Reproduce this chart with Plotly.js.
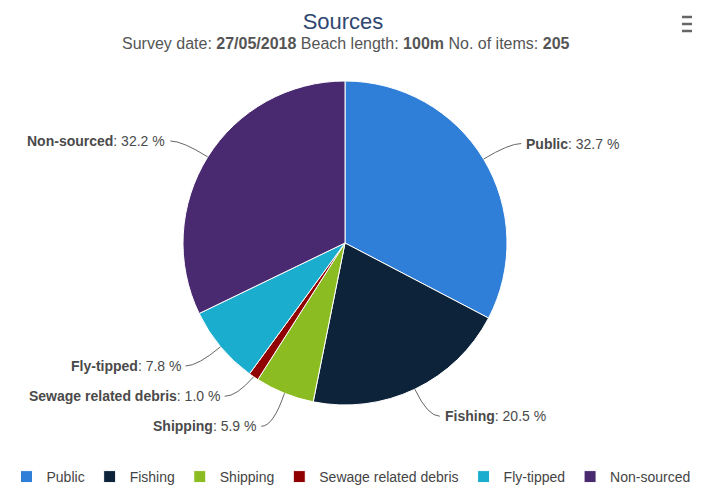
<!DOCTYPE html>
<html>
<head>
<meta charset="utf-8">
<script src="https://cdn.plot.ly/plotly-3.0.1.min.js"></script>
<style>html,body{margin:0;padding:0;background:#fff;}#chart{width:702px;height:494px;}</style>
</head>
<body>
<div id="chart"></div>
<script>
// Data
const categories = ['Public', 'Fishing', 'Shipping', 'Sewage related debris', 'Fly-tipped', 'Non-sourced'];
const percents = [32.7, 20.5, 5.9, 1.0, 7.8, 32.2];
const sliceColors = ['#2f7ed8', '#0d233a', '#8bbc21', '#910000', '#1aadce', '#492970'];

// Geometry
const W = 702, H = 494;
const cx = 345, cy = 243, r = 162, dist = 30;
const px = x => x / W;
const py = y => 1 - y / H;
const FONT = 'Liberation Sans, Arial, Helvetica, sans-serif';

const total = percents.reduce((a, b) => a + b, 0);
let cum = 0;
const items = percents.map((v, i) => {
  const mid = (cum + v / 2) / total * 2 * Math.PI;
  cum += v;
  const s = Math.sin(mid), c = Math.cos(mid);
  return {i, v, s, c,
    ex: cx + r * s, ey: cy - r * c,
    ax: cx + (r + dist) * s, ay: cy - (r + dist) * c,
    right: s >= 0};
});

// simple label de-overlap per side (keep minimum vertical gap)
const GAP = 30;
[true, false].forEach(side => {
  const list = items.filter(d => d.right === side).sort((a, b) => a.ay - b.ay);
  let changed = true, guard = 0;
  while (changed && guard++ < 50) {
    changed = false;
    for (let k = 1; k < list.length; k++) {
      const overlap = GAP - (list[k].ay - list[k - 1].ay);
      if (overlap > 0.01) {
        list[k - 1].ay -= overlap / 2;
        list[k].ay += overlap / 2;
        changed = true;
      }
    }
  }
});

const annotations = [];
const shapes = [];
items.forEach(d => {
  const sign = d.right ? 1 : -1;
  const tx = d.ax + sign * 12;
  shapes.push({
    type: 'path', xref: 'paper', yref: 'paper',
    path: `M ${px(tx)} ${py(d.ay)} Q ${px(d.ax)} ${py(d.ay)} ${px(d.ex)} ${py(d.ey)}`,
    line: {color: '#666666', width: 1}
  });
  const pct = (d.v / total * 100).toFixed(1);
  annotations.push({
    xref: 'paper', yref: 'paper', x: px(tx + sign * 3), y: py(d.ay),
    xanchor: d.right ? 'left' : 'right', yanchor: 'middle', showarrow: false,
    text: `<b>${categories[d.i]}</b>: ${pct} %`,
    font: {family: FONT, size: 14, color: '#4a4a4a'}
  });
});

// subtitle
annotations.push({
  xref: 'paper', yref: 'paper', x: px(346), y: py(44), xanchor: 'center', yanchor: 'middle', showarrow: false,
  text: 'Survey date: <b>27/05/2018</b> Beach length: <b>100m</b> No. of items: <b>205</b>',
  font: {family: FONT, size: 16, color: '#555555'}
});

// menu icon
[17, 24, 31].forEach(y => shapes.push({
  type: 'line', xref: 'paper', yref: 'paper', x0: px(682), x1: px(692), y0: py(y), y1: py(y),
  line: {color: '#666666', width: 2.5}
}));

const trace = {
  type: 'pie',
  labels: categories,
  values: percents,
  sort: false,
  direction: 'clockwise',
  rotation: 0,
  textinfo: 'none',
  marker: {colors: sliceColors, line: {color: '#ffffff', width: 1}},
  domain: {x: [px(cx - r), px(cx + r)], y: [py(cy + r), py(cy - r)]},
  hoverinfo: 'label+percent'
};

const layout = {
  width: W, height: H,
  margin: {l: 0, r: 0, t: 0, b: 0},
  paper_bgcolor: '#ffffff',
  title: {text: 'Sources', x: px(343), xanchor: 'center', y: py(21), yanchor: 'middle', yref: 'container',
          font: {family: FONT, size: 22, color: '#2f4770'}},
  showlegend: true,
  legend: {orientation: 'h', x: 0.5, xanchor: 'center', y: py(477), yanchor: 'middle',
           font: {family: FONT, size: 14, color: '#444444'},
           itemwidth: 30, traceorder: 'normal'},
  annotations: annotations,
  shapes: shapes
};

Plotly.newPlot('chart', [trace], layout, {displayModeBar: false});
</script>
</body>
</html>
